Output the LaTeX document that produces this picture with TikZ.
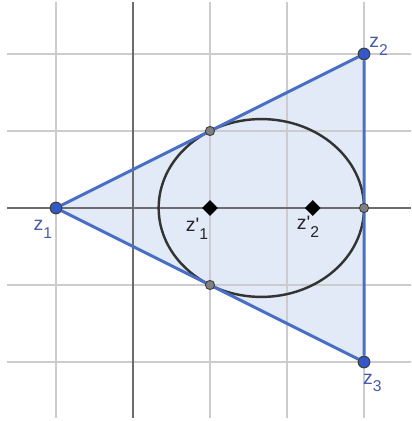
\documentclass[tikz,border=0pt]{standalone}
\usepackage{fontspec}
\setmainfont{Liberation Sans}
\usepackage{xcolor}
\usepackage{tikz}
\usetikzlibrary{shapes.geometric, positioning}
\definecolor{edgeblue}{RGB}{74,112,198}
\definecolor{fillblue}{RGB}{226,234,247}
\definecolor{ptblue}{RGB}{52,88,204}
\definecolor{lblblue}{RGB}{70,90,170}
\definecolor{gridgray}{RGB}{204,204,204}
\definecolor{axisgray}{RGB}{108,108,108}
\newcommand{\zsub}[2]{#1\raisebox{-0.75ex}{\fontsize{5.8}{6}\selectfont #2}}
\pgfdeclarelayer{back}
\pgfsetlayers{back,main}
\tikzset{
    vertex/.style={
        circle, inner sep=0pt, minimum size=4.3pt, draw=black!75, fill=ptblue, line width=0.4pt
    },
    touch/.style={
        circle, inner sep=0pt, minimum size=3.4pt, draw=black!75, fill=gray, line width=0.35pt
    },
    focus/.style={diamond, inner sep=0pt, minimum size=6pt, fill=black},
    zlabel/.style={font=\fontsize{7.2}{8}\selectfont, text=lblblue, inner sep=0pt},
    flabel/.style={font=\fontsize{7.2}{8}\selectfont, text=black!85, inner sep=0pt},
    gridline/.style={draw=gridgray, line width=0.4pt},
    axis/.style={draw=axisgray, line width=0.9pt},
    side/.style={draw=edgeblue, line width=1.1pt},
    inellipse/.style={draw=black!80, line width=0.9pt}
}

\begin{document}
\begin{tikzpicture}
    \useasboundingbox (-1.727,-2.766) rectangle (3.610,2.701);
    \node (z1) [vertex] at (-1,0) {};
    \node (z2) [vertex] at (3,2) {};
    \node (z3) [vertex] at (3,-2) {};
    \node (t1) [touch] at (1,1) {};
    \node (t2) [touch] at (1,-1) {};
    \node (t3) [touch] at (3,0) {};
    \node (f1) [focus] at (1,0) {};
    \node (f2) [focus] at (7/3,0) {};
    \coordinate (ctr) at (5/3,0);
    \node (lz1) [zlabel] at ([shift={(-0.17,-0.28)}]z1.center) {\zsub{z}{1}};
    \node (lz2) [zlabel] at ([shift={(0.19,0.10)}]z2.center) {\zsub{z}{2}};
    \node (lz3) [zlabel] at ([shift={(0.11,-0.27)}]z3.center) {\zsub{z}{3}};
    \node (lf1) [flabel] at ([shift={(-0.17,-0.27)}]f1.center) {\zsub{z\textquotesingle}{1}};
    \node (lf2) [flabel] at ([shift={(-0.06,-0.24)}]f2.center) {\zsub{z\textquotesingle}{2}};
    \begin{pgfonlayer}{back}
        \fill [fillblue] (z1.center) -- (z2.center) -- (z3.center) -- cycle;
        % grid and axes
        \foreach \x in {-1,1,2,3}
            \draw [gridline] (\x,2.675) -- (\x,-2.727);
        \foreach \y in {-2,-1,1,2}
            \draw [gridline] (-1.636,\y) -- (3.610,\y);
        \draw [axis] (-1.636,0) -- (3.610,0);
        \draw [axis] (0,2.675) -- (0,-2.727);
        \draw [inellipse] (ctr) ellipse [x radius=4/3, y radius=1.1547];
        \draw [side] (z1) -- (z2) -- (z3) -- (z1);
    \end{pgfonlayer}
\end{tikzpicture}
\end{document}
